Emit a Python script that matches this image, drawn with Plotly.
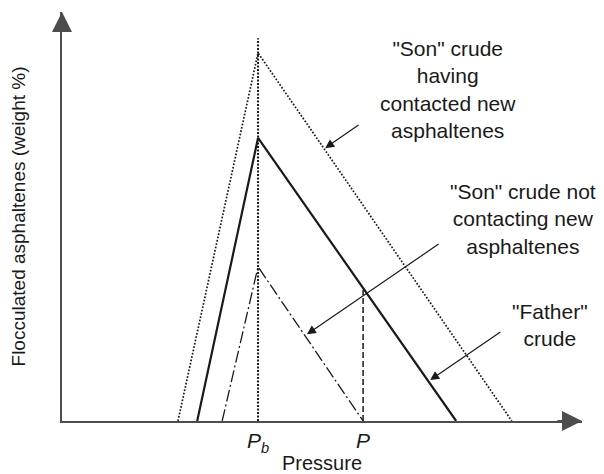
import plotly.graph_objects as go

# pressure (arbitrary units) and flocculated asphaltenes (weight %, arbitrary)
p_b = 3.77
p_op = 5.79

son_contacted_x = [2.23, 3.77, 8.65]
son_contacted_y = [0.0, 9.0, 0.0]

father_x = [2.60, 3.77, 7.58]
father_y = [0.0, 6.92, 0.0]

son_not_x = [3.08, 3.77, 5.79]
son_not_y = [0.0, 3.77, 0.0]

pb_line_y = [0.0, 9.36]
p_line_y = [0.0, 3.2]

tick_vals = [p_b, p_op]
tick_text = ['<i>P<sub>b</sub></i>', '<i>P</i>']

ink = '#1a1a1a'
axis_ink = '#4d4d4d'
font_family = 'Liberation Sans, Arial, sans-serif'

fig = go.Figure()

fig.add_trace(go.Scatter(
    x=son_contacted_x, y=son_contacted_y, mode='lines',
    line=dict(color=ink, width=1.7, dash='1.7px,1.7px'),
))
fig.add_trace(go.Scatter(
    x=[p_b, p_b], y=pb_line_y, mode='lines',
    line=dict(color=ink, width=2, dash='2px,1.5px'),
))
fig.add_trace(go.Scatter(
    x=father_x, y=father_y, mode='lines',
    line=dict(color=ink, width=2.2),
))
fig.add_trace(go.Scatter(
    x=son_not_x, y=son_not_y, mode='lines',
    line=dict(color=ink, width=1.3, dash='12px,3px,2px,3px'),
))
fig.add_trace(go.Scatter(
    x=[p_op, p_op], y=p_line_y, mode='lines',
    line=dict(color=ink, width=1.5, dash='6px,3px'),
))

# axis arrowheads
fig.add_annotation(x=10.0, y=0, ax=9.5, ay=0, xref='x', yref='y', axref='x', ayref='y',
                   showarrow=True, arrowhead=2, arrowsize=2, arrowwidth=2,
                   arrowcolor=axis_ink, text='')
fig.add_annotation(x=0, y=10.0, ax=0, ay=9.5, xref='x', yref='y', axref='x', ayref='y',
                   showarrow=True, arrowhead=2, arrowsize=2, arrowwidth=2,
                   arrowcolor=axis_ink, text='')

# pointer arrows
pointers = [
    ((5.73, 7.26), (5.06, 6.67)),
    ((7.27, 4.35), (4.71, 2.12)),
    ((8.46, 2.20), (7.08, 1.00)),
]
for (tx, ty), (hx, hy) in pointers:
    fig.add_annotation(x=hx, y=hy, ax=tx, ay=ty, xref='x', yref='y', axref='x', ayref='y',
                       showarrow=True, arrowhead=2, arrowsize=1.5, arrowwidth=1.2,
                       arrowcolor=ink, text='')

labels = [
    (7.42, 8.10, '"Son" crude<br>having<br>contacted new<br>asphaltenes'),
    (8.87, 4.94, '"Son" crude not<br>contacting new<br>asphaltenes'),
    (9.38, 2.35, '"Father"<br>crude'),
]
for lx, ly, txt in labels:
    fig.add_annotation(x=lx, y=ly, xref='x', yref='y', text=txt, showarrow=False,
                       align='center', font=dict(size=21, color=ink, family=font_family))

# the page body adds an 8px margin, so the figure is 8px smaller than the window
fig.update_layout(
    width=596, height=466,
    margin=dict(l=54, r=22, t=4, b=53),
    paper_bgcolor='white', plot_bgcolor='white',
    showlegend=False,
    font=dict(family=font_family, size=20, color=ink),
)
fig.update_xaxes(
    range=[0, 10], showgrid=False, zeroline=False,
    showline=True, linecolor=axis_ink, linewidth=2,
    tickvals=tick_vals, ticktext=tick_text, ticks='',
    tickfont=dict(size=21, color=ink),
    title=dict(text='Pressure', standoff=0, font=dict(size=20, color=ink)),
    automargin=False,
)
fig.update_yaxes(
    range=[0, 10], showgrid=False, zeroline=False,
    showline=True, linecolor=axis_ink, linewidth=2,
    showticklabels=False, ticks='',
    title=dict(text='Flocculated asphaltenes (weight %)', standoff=30,
               font=dict(size=19, color=ink)),
    automargin=False,
)

fig.write_html('out.html')
